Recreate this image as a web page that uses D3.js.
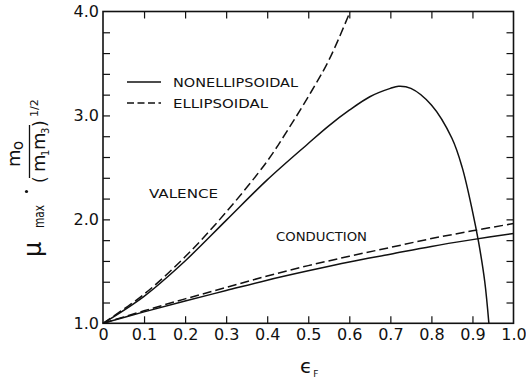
<!DOCTYPE html>
<html>
<head>
<meta charset="utf-8">
<script src="https://cdn.jsdelivr.net/npm/d3@7"></script>
<style>
  html, body { margin: 0; padding: 0; background: #fff; }
  svg { display: block; }
  text { font-family: "DejaVu Sans", "Liberation Sans", sans-serif; fill: #111; }
</style>
</head>
<body>
<svg id="chart" width="526" height="381"></svg>
<script>
// ---- data ----
const xTickValues = [0, 0.1, 0.2, 0.3, 0.4, 0.5, 0.6, 0.7, 0.8, 0.9, 1.0];
const xTickLabels = ["0", "0.1", "0.2", "0.3", "0.4", "0.5", "0.6", "0.7", "0.8", "0.9", "1.0"];
const yTickValues = [1.0, 1.2, 1.4, 1.6, 1.8, 2.0, 2.2, 2.4, 2.6, 2.8, 3.0, 3.2, 3.4, 3.6, 3.8, 4.0];
const yTickLabels = ["1.0", "", "", "", "", "2.0", "", "", "", "", "3.0", "", "", "", "", "4.0"];

const valenceEllX = [0, 0.1, 0.2, 0.3, 0.4, 0.45, 0.5, 0.55, 0.6, 0.602];
const valenceEllY = [1.0, 1.28, 1.64, 2.07, 2.56, 2.86, 3.18, 3.53, 3.98, 4.0];

const valenceNonX = [0, 0.1, 0.2, 0.3, 0.4, 0.5, 0.55, 0.6, 0.65, 0.7, 0.72, 0.75, 0.8, 0.85, 0.875, 0.9, 0.915, 0.93, 0.94];
const valenceNonY = [1.0, 1.26, 1.60, 1.99, 2.38, 2.73, 2.90, 3.05, 3.18, 3.26, 3.28, 3.26, 3.10, 2.78, 2.50, 2.08, 1.78, 1.40, 1.0];

const conductionEllX = [0, 0.1, 0.2, 0.3, 0.4, 0.5, 0.6, 0.7, 0.8, 0.9, 1.0];
const conductionEllY = [1.0, 1.12, 1.235, 1.345, 1.455, 1.555, 1.645, 1.73, 1.815, 1.89, 1.96];

const conductionNonX = [0, 0.1, 0.2, 0.3, 0.4, 0.5, 0.6, 0.7, 0.8, 0.9, 1.0];
const conductionNonY = [1.0, 1.11, 1.215, 1.315, 1.415, 1.505, 1.59, 1.665, 1.74, 1.805, 1.865];

const legendLabels = ["NONELLIPSOIDAL", "ELLIPSOIDAL"];
const bandLabels = ["VALENCE", "CONDUCTION"];

// ---- layout ----
const svg = d3.select("#chart");
const mLeft = 103, mRight = 513.5, mTop = 11.5, mBottom = 323.3;
const x = d3.scaleLinear().domain([0, 1]).range([mLeft, mRight]);
const y = d3.scaleLinear().domain([1, 4]).range([mBottom, mTop]);

const toPts = (xs, ys) => xs.map((v, i) => [v, ys[i]]);
const line = d3.line().x(d => x(d[0])).y(d => y(d[1])).curve(d3.curveCatmullRom.alpha(0.5));

// axes with inward ticks
const tickLen = 7;
const gB = svg.append("g").attr("transform", `translate(0,${mBottom})`)
  .call(d3.axisBottom(x).tickValues(xTickValues).tickSize(-tickLen).tickSizeOuter(0).tickPadding(5)
    .tickFormat((d, i) => xTickLabels[i]));
const gT = svg.append("g").attr("transform", `translate(0,${mTop})`)
  .call(d3.axisTop(x).tickValues(xTickValues).tickSize(-tickLen).tickSizeOuter(0).tickFormat(""));
const gL = svg.append("g").attr("transform", `translate(${mLeft},0)`)
  .call(d3.axisLeft(y).tickValues(yTickValues).tickSize(-tickLen).tickSizeOuter(0).tickPadding(4)
    .tickFormat((d, i) => yTickLabels[i]));
const gR = svg.append("g").attr("transform", `translate(${mRight},0)`)
  .call(d3.axisRight(y).tickValues(yTickValues).tickSize(-tickLen).tickSizeOuter(0).tickFormat(""));

[gB, gT, gL, gR].forEach(g => {
  g.select(".domain").remove();
  g.selectAll(".tick line").attr("stroke", "#111").attr("stroke-width", 1.2);
  g.selectAll(".tick text").attr("font-size", 16).attr("fill", "#111")
    .attr("font-family", "DejaVu Sans, sans-serif");
});
gB.selectAll(".tick").filter(d => d === 0 || d === 1).select("line").remove();
gT.selectAll(".tick").filter(d => d === 0 || d === 1).select("line").remove();
gL.selectAll(".tick").filter(d => d === 1 || d === 4).select("line").remove();
gR.selectAll(".tick").filter(d => d === 1 || d === 4).select("line").remove();

// frame
svg.append("rect").attr("x", mLeft).attr("y", mTop)
  .attr("width", mRight - mLeft).attr("height", mBottom - mTop)
  .attr("fill", "none").attr("stroke", "#111").attr("stroke-width", 1.6);

// curves
const series = [
  { pts: toPts(valenceEllX, valenceEllY), dash: "9,4" },
  { pts: toPts(valenceNonX, valenceNonY), dash: null },
  { pts: toPts(conductionEllX, conductionEllY), dash: "9,4" },
  { pts: toPts(conductionNonX, conductionNonY), dash: null }
];
svg.append("g").selectAll("path").data(series).join("path")
  .attr("d", d => line(d.pts))
  .attr("fill", "none").attr("stroke", "#111").attr("stroke-width", 1.5)
  .attr("stroke-dasharray", d => d.dash);

// legend
const leg = svg.append("g");
leg.append("line").attr("x1", 127).attr("x2", 161).attr("y1", 82).attr("y2", 82)
  .attr("stroke", "#111").attr("stroke-width", 1.5);
leg.append("line").attr("x1", 127).attr("x2", 161).attr("y1", 103).attr("y2", 103)
  .attr("stroke", "#111").attr("stroke-width", 1.5).attr("stroke-dasharray", "7,3.5");
leg.append("text").attr("x", 173).attr("y", 87).attr("font-size", 13)
  .attr("textLength", 125).attr("lengthAdjust", "spacingAndGlyphs").text(legendLabels[0]);
leg.append("text").attr("x", 173).attr("y", 108).attr("font-size", 13)
  .attr("textLength", 95).attr("lengthAdjust", "spacingAndGlyphs").text(legendLabels[1]);

// band labels
svg.append("text").attr("x", 149).attr("y", 198).attr("font-size", 13)
  .attr("textLength", 69).attr("lengthAdjust", "spacingAndGlyphs").text(bandLabels[0]);
svg.append("text").attr("x", 276).attr("y", 241).attr("font-size", 13)
  .attr("textLength", 91).attr("lengthAdjust", "spacingAndGlyphs").text(bandLabels[1]);

// x axis title: epsilon_F
const xt = svg.append("text").attr("x", 300).attr("y", 373).attr("font-size", 20);
xt.append("tspan").text("ϵ");
xt.append("tspan").attr("font-size", 9).attr("dy", 4).attr("dx", 1).text("F");

// y axis title (rotated): mu_max . m_o / (m_1 m_3)^(1/2)
const yt = svg.append("g").attr("transform", "rotate(-90)");
yt.append("text").attr("x", -257).attr("y", 41).attr("font-size", 24).text("μ");
yt.append("text").attr("x", -228).attr("y", 44).attr("font-size", 14)
  .attr("textLength", 23).attr("lengthAdjust", "spacingAndGlyphs").text("max");
svg.append("circle").attr("cx", 26.5).attr("cy", 191.5).attr("r", 1.6).attr("fill", "#111");
yt.append("text").attr("x", -167).attr("y", 20).attr("font-size", 18).text("m");
yt.append("text").attr("x", -150).attr("y", 23).attr("font-size", 15).text("o");
svg.append("line").attr("x1", 29.5).attr("x2", 29.5).attr("y1", 125).attr("y2", 178)
  .attr("stroke", "#111").attr("stroke-width", 1.3);
yt.append("text").attr("x", -183).attr("y", 46).attr("font-size", 17).text("(");
yt.append("text").attr("x", -172).attr("y", 45).attr("font-size", 18).text("m");
yt.append("text").attr("x", -156).attr("y", 49).attr("font-size", 10).text("1");
yt.append("text").attr("x", -150).attr("y", 45).attr("font-size", 18).text("m");
yt.append("text").attr("x", -134).attr("y", 49).attr("font-size", 10).text("3");
yt.append("text").attr("x", -127).attr("y", 46).attr("font-size", 17).text(")");
yt.append("text").attr("x", -117).attr("y", 38).attr("font-size", 11).text("1/2");
</script>
</body>
</html>
